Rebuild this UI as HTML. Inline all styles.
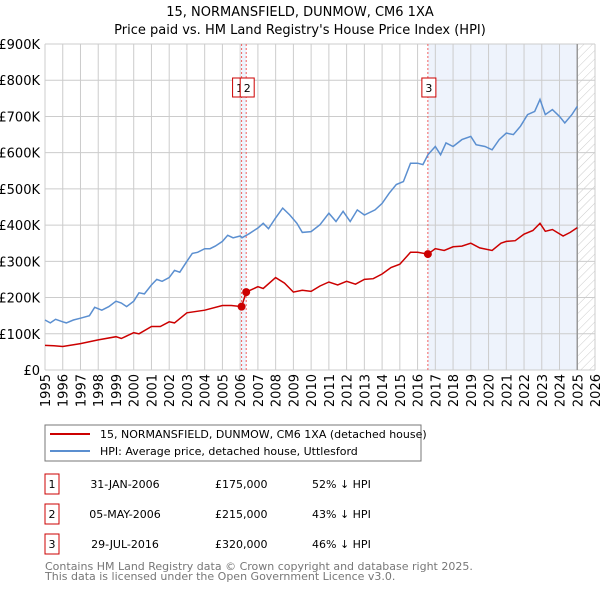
<!DOCTYPE html>
<html><head><meta charset="utf-8"><style>
body{margin:0;background:#fff;font-family:"DejaVu Sans","Liberation Sans",sans-serif;}
</style></head><body>
<svg id="chart" width="600" height="590" xmlns="http://www.w3.org/2000/svg" style="font-family:'DejaVu Sans','Liberation Sans',sans-serif">
<defs><pattern id="hatch" patternUnits="userSpaceOnUse" width="6" height="6" patternTransform="rotate(45)"><line x1="0" y1="0" x2="0" y2="6" stroke="#ccc" stroke-width="1"/></pattern></defs>
<text x="300" y="16" text-anchor="middle" font-size="13">15, NORMANSFIELD, DUNMOW, CM6 1XA</text>
<text x="300" y="34" text-anchor="middle" font-size="13">Price paid vs. HM Land Registry's House Price Index (HPI)</text>
<g id="grid"></g><g id="marks"></g><g id="series"></g><g id="axes"></g>
<rect x="45" y="425" width="376" height="36" fill="#fff" stroke="#777"/>
<line x1="50" y1="434" x2="90" y2="434" stroke="#cc0000" stroke-width="2"/>
<text x="100" y="438" font-size="11">15, NORMANSFIELD, DUNMOW, CM6 1XA (detached house)</text>
<line x1="50" y1="451" x2="90" y2="451" stroke="#5b8fd0" stroke-width="2"/>
<text x="100" y="455" font-size="11">HPI: Average price, detached house, Uttlesford</text>
<g id="table" font-size="11"></g>
<text x="45" y="570" font-size="11" fill="#777">Contains HM Land Registry data © Crown copyright and database right 2025.</text>
<text x="45" y="580" font-size="11" fill="#777">This data is licensed under the Open Government Licence v3.0.</text>
</svg>
<script>
const hpiYears=[1995,1995.3,1995.6,1996,1996.2,1996.6,1997,1997.5,1997.8,1998.2,1998.6,1999,1999.3,1999.6,2000,2000.3,2000.6,2001,2001.3,2001.6,2002,2002.3,2002.6,2003,2003.3,2003.6,2004,2004.3,2004.6,2005,2005.3,2005.6,2006,2006.1,2006.5,2007,2007.3,2007.6,2008,2008.4,2008.8,2009.2,2009.5,2010,2010.5,2011,2011.4,2011.8,2012.2,2012.6,2013,2013.6,2014,2014.4,2014.8,2015.2,2015.6,2016,2016.3,2016.58,2017,2017.3,2017.6,2018,2018.5,2019,2019.3,2019.8,2020.2,2020.6,2021,2021.4,2021.8,2022.2,2022.6,2022.9,2023.2,2023.6,2024,2024.3,2024.7,2025];
const hpiValues=[138,130,140,133,130,138,143,150,173,165,175,190,185,175,190,213,210,235,250,245,255,275,270,300,322,325,335,335,342,355,372,365,370,365,376,392,405,390,420,447,428,405,380,382,401,433,410,438,410,442,428,442,460,488,512,520,571,571,567,594,617,594,627,617,636,645,622,617,608,636,654,650,673,705,714,747,705,719,700,682,705,728];
const priceYears=[1995,1995.5,1996,1997,1998,1999,1999.3,2000,2000.3,2001,2001.5,2002,2002.3,2003,2004,2005,2005.5,2006.08,2006.34,2007,2007.3,2008,2008.5,2009,2009.5,2010,2010.5,2011,2011.5,2012,2012.5,2013,2013.5,2014,2014.5,2015,2015.6,2016,2016.58,2017,2017.5,2018,2018.5,2019,2019.5,2020.2,2020.7,2021,2021.5,2022,2022.5,2022.9,2023.2,2023.6,2024.2,2024.6,2025];
const priceValues=[68,67,65,73,83,92,87,103,100,120,120,133,130,158,165,178,178,175,215,230,225,255,240,215,220,217,232,243,235,245,237,250,252,265,283,292,325,325,320,335,330,340,342,350,337,330,350,355,357,375,385,405,383,388,370,380,393];
const saleYears=[2006.08,2006.34,2016.58];
const saleValues=[175,215,320];
const saleLabels=["1","2","3"];
const saleDates=["31-JAN-2006","05-MAY-2006","29-JUL-2016"];
const salePrices=["£175,000","£215,000","£320,000"];
const saleDiffs=["52% ↓ HPI","43% ↓ HPI","46% ↓ HPI"];
const yTicks=[0,100,200,300,400,500,600,700,800,900];
const yTickLabels=["£0","£100K","£200K","£300K","£400K","£500K","£600K","£700K","£800K","£900K"];
const xTicks=[1995,1996,1997,1998,1999,2000,2001,2002,2003,2004,2005,2006,2007,2008,2009,2010,2011,2012,2013,2014,2015,2016,2017,2018,2019,2020,2021,2022,2023,2024,2025,2026];
const dataEnd=2025.0;

const NS="http://www.w3.org/2000/svg";
const X0=45,X1=595,Y0=370,Y1=44;
const xs=v=>X0+(v-1995)/(2026-1995)*(X1-X0);
const ys=v=>Y0-v/900*(Y0-Y1);
function mk(parent,tag,attrs,text){const e=document.createElementNS(NS,tag);for(const k in attrs)e.setAttribute(k,attrs[k]);if(text!==undefined)e.textContent=text;document.getElementById(parent).appendChild(e);return e;}
// shading
let e;
e=mk('grid','rect',{x:xs(saleYears[0]),y:Y1,width:xs(saleYears[1])-xs(saleYears[0]),height:Y0-Y1,fill:'#eef3fc'});


e=mk('grid','rect',{x:xs(saleYears[2]),y:Y1,width:xs(dataEnd)-xs(saleYears[2]),height:Y0-Y1,fill:'#eef3fc'});


e=mk('grid','rect',{x:xs(dataEnd),y:Y1,width:X1-xs(dataEnd),height:Y0-Y1,fill:'url(#hatch)'});


yTicks.forEach((t,i)=>{
 e=mk('grid','line',{x1:X0,x2:X1,y1:ys(t),y2:ys(t),stroke:'#ccc'});
 
 
 e=mk('axes','text',{x:40,y:ys(t)+5,'text-anchor':'end','font-size':'13'},yTickLabels[i]);
 
 
});
xTicks.forEach(t=>{
 e=mk('grid','line',{x1:xs(t),x2:xs(t),y1:Y1,y2:Y0,stroke:'#ccc'});
 
 
 e=mk('axes','text',{x:0,y:0,'text-anchor':'end','font-size':'13',transform:`translate(${xs(t)+5},374) rotate(-90)`},String(t));
 
 
});
e=mk('grid','line',{x1:xs(dataEnd),x2:xs(dataEnd),y1:Y1,y2:Y0,stroke:'#999','stroke-width':1.5});


saleYears.forEach((y,i)=>{
 e=mk('marks','line',{x1:xs(y),x2:xs(y),y1:Y1,y2:Y0,stroke:'#f06060','stroke-dasharray':'2,2'});
 
 
 const bx=xs(y)-(i===0?9:6);
 e=mk('marks','rect',{x:bx,y:78,width:14,height:19,fill:'#fff',stroke:'#cc0000'});
 
 
 e=mk('marks','text',{x:bx+7,y:92,'text-anchor':'middle','font-size':'11'},saleLabels[i]);
 
 
});
const pts=(xa,va)=>xa.map((x,i)=>xs(x).toFixed(1)+','+ys(va[i]).toFixed(1)).join(' ');
e=mk('series','polyline',{points:pts(hpiYears,hpiValues),fill:'none',stroke:'#5b8fd0','stroke-width':1.5});


e=mk('series','polyline',{points:pts(priceYears,priceValues),fill:'none',stroke:'#cc0000','stroke-width':1.5});


saleYears.forEach((y,i)=>{
 e=mk('series','circle',{cx:xs(y),cy:ys(saleValues[i]),r:4,fill:'#cc0000'});
 
 
});
saleLabels.forEach((l,i)=>{
 const ry=474+i*30;
 e=mk('table','rect',{x:45,y:ry,width:14,height:20,fill:'#fff',stroke:'#cc0000'});
 
 
 e=mk('table','text',{x:52,y:ry+14,'text-anchor':'middle'},l);
 
 
 e=mk('table','text',{x:125,y:ry+14,'text-anchor':'middle'},saleDates[i]);
 
 
 e=mk('table','text',{x:215,y:ry+14},salePrices[i]);
 
 
 e=mk('table','text',{x:312,y:ry+14},saleDiffs[i]);
 
 
});
</script>
</body></html>
